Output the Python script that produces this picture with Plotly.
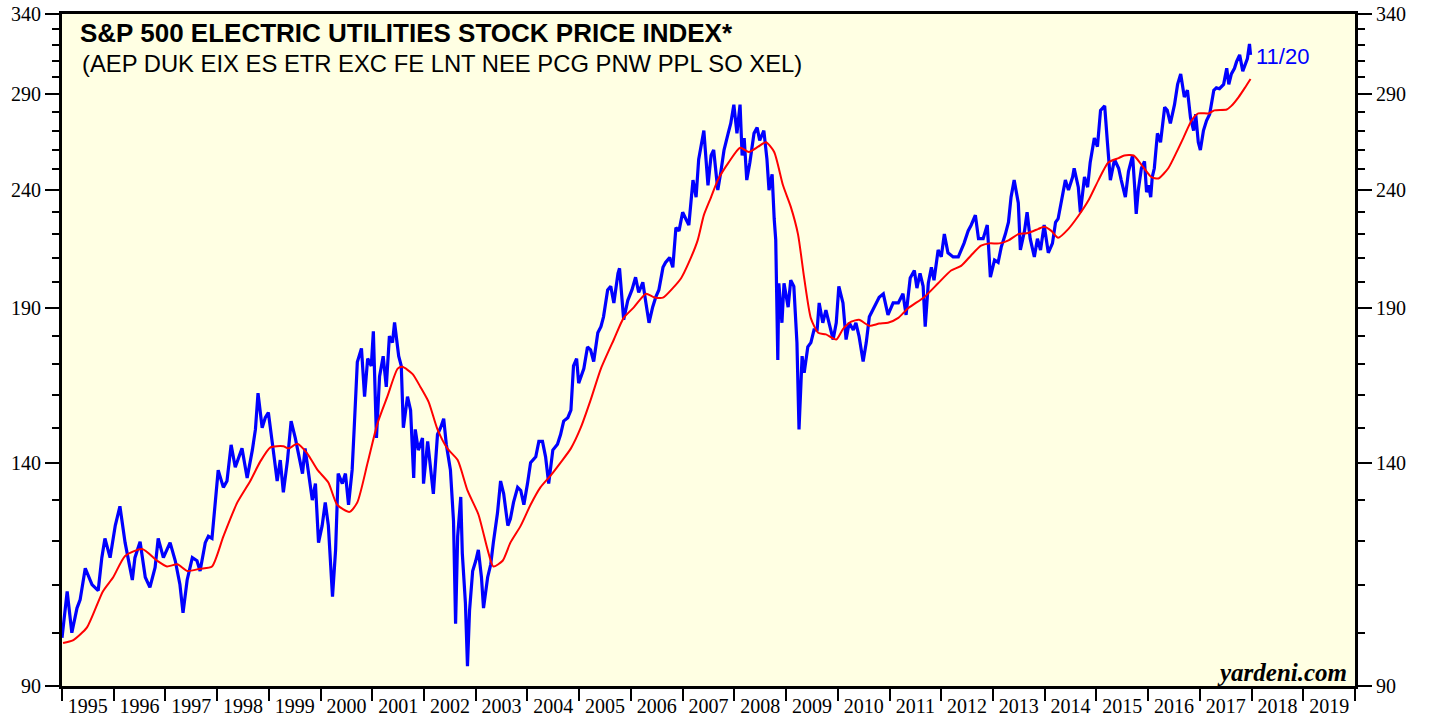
import math
import plotly.graph_objects as go

# ---- data (decimal years, index values) ----
blue_t = [1995.00,1995.10,1995.19,1995.29,1995.35,1995.45,1995.58,1995.70,1995.77,1995.83,1995.93,
1996.03,1996.12,1996.22,1996.36,1996.41,1996.51,1996.61,1996.70,1996.80,1996.86,1996.96,
1997.09,1997.19,1997.28,1997.34,1997.42,1997.52,1997.61,1997.67,1997.77,1997.83,1997.90,1997.96,
1998.02,1998.12,1998.19,1998.27,1998.35,1998.48,1998.58,1998.68,1998.74,1998.79,1998.87,1998.93,1998.99,
1999.08,1999.16,1999.22,1999.28,1999.36,1999.43,1999.51,1999.57,1999.65,1999.70,1999.76,1999.84,1999.90,1999.96,
2000.03,2000.09,2000.15,2000.23,2000.29,2000.34,2000.42,2000.48,2000.54,2000.61,2000.65,2000.71,2000.79,2000.85,2000.91,2000.98,
2001.02,2001.08,2001.14,2001.21,2001.27,2001.33,2001.39,2001.43,2001.51,2001.56,2001.60,2001.68,2001.74,2001.80,2001.83,2001.89,2001.97,2001.99,
2002.07,2002.12,2002.18,2002.26,2002.32,2002.38,2002.43,2002.51,2002.57,2002.61,2002.65,2002.71,2002.74,2002.80,2002.84,2002.88,2002.94,
2003.00,2003.05,2003.11,2003.15,2003.23,2003.29,2003.34,2003.42,2003.48,2003.54,2003.62,2003.67,2003.73,2003.81,2003.87,2003.93,
2004.00,2004.06,2004.16,2004.22,2004.29,2004.35,2004.41,2004.49,2004.58,2004.64,2004.70,2004.78,2004.84,2004.89,2004.95,2004.99,
2005.09,2005.16,2005.22,2005.28,2005.36,2005.42,2005.47,2005.55,2005.61,2005.67,2005.75,2005.78,2005.86,2005.94,
2006.02,2006.09,2006.15,2006.23,2006.29,2006.35,2006.42,2006.48,2006.54,2006.62,2006.67,2006.75,2006.81,2006.87,2006.93,
2007.00,2007.06,2007.12,2007.20,2007.26,2007.31,2007.35,2007.41,2007.49,2007.55,2007.60,2007.68,2007.74,2007.80,2007.88,2007.93,2007.99,
2008.05,2008.11,2008.15,2008.19,2008.24,2008.30,2008.38,2008.44,2008.49,2008.57,2008.63,2008.67,2008.73,2008.77,2008.80,2008.84,2008.86,2008.92,2008.96,
2009.04,2009.09,2009.15,2009.21,2009.25,2009.31,2009.35,2009.42,2009.48,2009.54,2009.60,2009.64,2009.71,2009.77,2009.83,2009.91,2009.97,
2010.02,2010.10,2010.16,2010.22,2010.30,2010.35,2010.41,2010.49,2010.55,2010.61,2010.68,2010.74,2010.80,2010.88,2010.97,
2011.07,2011.17,2011.26,2011.32,2011.40,2011.48,2011.53,2011.59,2011.65,2011.69,2011.75,2011.81,2011.86,2011.94,
2012.00,2012.06,2012.13,2012.23,2012.33,2012.39,2012.44,2012.52,2012.58,2012.66,2012.72,2012.81,2012.89,2012.95,
2013.03,2013.10,2013.16,2013.24,2013.30,2013.35,2013.41,2013.49,2013.53,2013.61,2013.66,2013.72,2013.80,2013.86,2013.92,2013.99,
2014.07,2014.15,2014.21,2014.26,2014.34,2014.40,2014.46,2014.54,2014.57,2014.65,2014.69,2014.77,2014.83,2014.88,2014.96,
2015.02,2015.08,2015.16,2015.21,2015.27,2015.35,2015.43,2015.48,2015.56,2015.62,2015.70,2015.74,2015.77,2015.81,2015.87,2015.93,2015.97,
2016.01,2016.05,2016.08,2016.12,2016.18,2016.24,2016.32,2016.37,2016.43,2016.51,2016.57,2016.63,2016.70,2016.76,2016.82,2016.88,2016.92,2016.97,
2017.01,2017.07,2017.13,2017.19,2017.27,2017.32,2017.38,2017.46,2017.52,2017.56,2017.61,2017.67,2017.71,2017.77,2017.83,2017.87,2017.92,2017.96,2017.98]

blue_v = [99,108.5,100,105,106.7,113.6,110,108.7,116,120.5,116,
123.6,128.4,119.5,111,116,119.7,111.6,109.4,113.8,120.5,116,
119.5,115.3,110,104,111,116,115.3,113,119.5,121,120.5,130,
137.9,133.3,135,145,138.7,144,135.8,143.5,149.5,160.6,150,153,154.6,
144,135,140.7,132,140.7,152,147,142.6,137,144,138,130,134.3,119.5,
123.6,129.4,123.6,107.4,117.8,137,134.3,137,128.8,138,150,170.8,175.5,159.5,172,169.5,
181.5,147,166,172.8,162.6,179.8,177.5,184.7,172.8,169.5,150,159.5,155.3,135.8,149.5,143.5,147,134.3,
146,138.7,131.6,148,150,152.7,145.2,138,124.7,101.8,121,130.8,117,106,93.6,104.5,113,
115.3,117.8,111.6,105,111.6,114.5,119.5,126.7,135,131.6,123.6,125.3,129.4,133.3,132.5,128.8,
134.3,140,141.6,146,146,141.6,134.3,143.5,145.2,148,152,153,155.3,169.5,172,163.8,
168.6,176,175,171,181,183.2,186.8,197,198.4,192,203.6,205.6,185.7,193,
197,202,196,200,192,184.6,190.4,194.2,197,206,208,210,206,222.8,221.4,
229.7,226.8,224,244.8,236.7,255,261.5,270,242.3,257,259.8,240,249,259.8,268.5,273.8,284.2,
268.5,284.2,257,266,244.8,253.5,268.5,271.6,264.8,270,255.2,240,247.6,226.8,217.5,171.5,199.6,184.6,199.6,
190.4,200.8,198.4,177.5,149.5,172.8,167.2,176,177.5,182,182,192,184.6,189.3,184.6,178.6,184.6,
198.4,192,178.6,184.6,182,184.6,179.8,171,177.5,186.8,189.3,192,194.2,195.5,187.5,
192,192,195.5,187.5,201.7,204.7,197.7,203.6,198.4,183.2,199.6,206,200.8,213.2,
210.3,220,212,210.3,210.3,213.2,216,221.4,224,228.4,218,218,224,202,
209,208,214.4,220,225.2,236.7,244.8,234,213.2,221.4,229.7,218,210.3,218,213.2,224,
212,216,225.2,226.8,236.7,244.8,240,246.3,250.6,241.4,229.7,246.3,241.4,253.5,266,
261.5,281,283.5,264.8,244.8,255,250.6,244.8,236.7,249,257,241.4,229,240,250.6,254,239,
242.3,236.7,246.3,250.6,268.5,263.8,282.7,281,273.8,284.2,295.8,302,288.5,292.4,276.8,270,278.9,263.8,
259.8,270,275.4,278.9,292.4,293.8,293.3,295.8,305.4,295.8,302,305.4,309.4,313.6,303.7,307.8,311.3,320.5,313.6]

red_t = [1995.02,1995.21,1995.48,1995.79,1995.99,1996.22,1996.55,1996.84,1997.03,1997.23,1997.42,1997.67,1997.90,
1998.12,1998.39,1998.64,1998.83,1999.03,1999.28,1999.38,1999.55,1999.74,1999.94,2000.15,2000.32,2000.56,2000.71,2000.91,
2001.10,2001.29,2001.49,2001.58,2001.78,2001.93,2002.09,2002.26,2002.45,2002.65,2002.84,2003.05,2003.23,2003.34,2003.52,
2003.67,2003.87,2004.06,2004.25,2004.45,2004.64,2004.84,2005.03,2005.22,2005.42,2005.67,2005.86,2006.06,2006.29,2006.44,
2006.62,2006.81,2006.97,2007.12,2007.29,2007.41,2007.55,2007.68,2007.89,2008.11,2008.28,2008.46,2008.61,2008.77,2008.94,
2009.09,2009.23,2009.35,2009.48,2009.62,2009.77,2009.97,2010.10,2010.26,2010.41,2010.61,2010.80,2010.97,2011.17,2011.36,
2011.67,2011.94,2012.19,2012.39,2012.58,2012.77,2012.93,2013.12,2013.30,2013.49,2013.68,2013.88,2013.99,2014.13,2014.26,
2014.46,2014.65,2014.85,2015.04,2015.23,2015.43,2015.54,2015.72,2015.91,2016.06,2016.20,2016.39,2016.55,2016.68,2016.84,
2016.97,2017.17,2017.28,2017.52,2017.61,2017.75,2017.87,2017.98]

red_v = [98,98.5,101,108.5,111.6,116.4,118,115.3,114,114.5,113,113.5,114,
121,129.4,135,140.2,144.3,144.6,144,145.3,142.6,138,134.6,128.8,127,129.4,140,
151.3,159.5,168.6,169.2,166.8,162.6,157.8,149.5,144,140.7,132.5,126.4,117.8,114,115.3,
119.5,123.6,128.8,133.3,136.5,140,144,150,158.4,168.6,178.6,186.4,190.4,195.5,194.2,
194,197.7,201.6,208,217.3,228.4,236.7,244.8,253.5,261,258.8,261.5,263.8,258.8,242.3,
232.3,220,201.7,186.2,181,180.4,178.6,182.3,185,185.7,183.5,184.3,184.6,186.4,190,
194.2,199.6,204.7,206.7,211,215,216,216,217.3,220,220.5,222.3,223.2,221.4,218.4,
222.3,228,235.3,244.8,253.5,255.7,257,257,251,246.3,245.6,250.6,258.7,266,275.4,
279.3,279.3,281,281.5,283.5,288.5,293.8,299]

years = list(range(1995, 2020))
year_labels = [str(y) for y in years]
y_major = [90, 140, 190, 240, 290, 340]
y_minor = [v for v in range(100, 340, 10) if v not in y_major]

TITLE = "S&P 500 ELECTRIC UTILITIES STOCK PRICE INDEX*"
SUBTITLE = "(AEP DUK EIX ES ETR EXC FE LNT NEE PCG PNW PPL SO XEL)"
LAST_DATE = "11/20"

fig = go.Figure()
fig.add_trace(go.Scatter(x=blue_t, y=blue_v, mode="lines",
                         line=dict(color="#0000FF", width=3.2), hoverinfo="skip"))
fig.add_trace(go.Scatter(x=red_t, y=red_v, mode="lines",
                         line=dict(color="#FF0000", width=2, shape="spline", smoothing=0.6),
                         hoverinfo="skip"))
# invisible trace for the right axis
fig.add_trace(go.Scatter(x=[blue_t[0]], y=[blue_v[0]], yaxis="y2", mode="markers",
                         marker=dict(opacity=0), hoverinfo="skip"))

yr = [math.log10(90) - 1e-6, math.log10(340) + 1e-6]
tickfont = dict(family="Liberation Serif, Times New Roman, serif", size=20, color="black")

fig.update_layout(
    width=1429, height=717,
    margin=dict(l=62, r=74, t=14, b=31, autoexpand=False),
    paper_bgcolor="white",
    plot_bgcolor="#FFFFE3",
    showlegend=False,
    xaxis=dict(
        range=[1995, 2020], showgrid=False, zeroline=False, automargin=False,
        tickmode="array", tickvals=[y + 0.5 for y in years], ticktext=year_labels,
        ticks="", tickfont=tickfont,
        showline=True, linecolor="black", linewidth=3, mirror=True,
        minor=dict(tickmode="array", tickvals=list(range(1995, 2021)), ticks="outside",
                   ticklen=12, tickwidth=2, tickcolor="black", showgrid=False),
    ),
    yaxis=dict(
        type="log", range=yr, showgrid=False, zeroline=False, automargin=False,
        tickmode="array", tickvals=y_major, ticktext=[str(v) for v in y_major],
        ticks="outside", ticklen=14, tickwidth=1.5, tickcolor="black", tickfont=tickfont,
        showline=True, linecolor="black", linewidth=3, mirror=True,
        minor=dict(tickmode="array", tickvals=y_minor, ticks="outside", ticklen=7,
                   tickwidth=1.5, tickcolor="black", showgrid=False),
    ),
    yaxis2=dict(
        type="log", range=yr, overlaying="y", side="right", showgrid=False, zeroline=False,
        automargin=False,
        tickmode="array", tickvals=y_major, ticktext=[str(v) for v in y_major],
        ticks="outside", ticklen=14, tickwidth=1.5, tickcolor="black", tickfont=tickfont,
        showline=True, linecolor="black", linewidth=3,
        minor=dict(tickmode="array", tickvals=y_minor, ticks="outside", ticklen=7,
                   tickwidth=1.5, tickcolor="black", showgrid=False),
    ),
)

sans = "Liberation Sans, Arial, Helvetica, sans-serif"
fig.add_annotation(xref="paper", yref="paper", x=0.0125, y=0.971, xanchor="left", yanchor="middle",
                   text="<b>" + TITLE.replace("&", "&amp;") + "</b>", showarrow=False,
                   font=dict(family=sans, size=26, color="black"))
fig.add_annotation(xref="paper", yref="paper", x=0.0139, y=0.926, xanchor="left", yanchor="middle",
                   text=SUBTITLE, showarrow=False,
                   font=dict(family=sans, size=23.8, color="black"))
fig.add_annotation(xref="paper", yref="paper", x=0.922, y=0.937, xanchor="left", yanchor="middle",
                   text=LAST_DATE, showarrow=False,
                   font=dict(family=sans, size=22, color="#0000FF"))
fig.add_annotation(xref="paper", yref="paper", x=0.995, y=0.0208, xanchor="right", yanchor="middle",
                   text="<b><i>yardeni.com</i></b>", showarrow=False,
                   font=dict(family="Liberation Serif, Times New Roman, serif", size=25, color="black"))

fig.write_html("out.html", config={"displayModeBar": False},
               post_script="document.body.style.margin='0px';")
